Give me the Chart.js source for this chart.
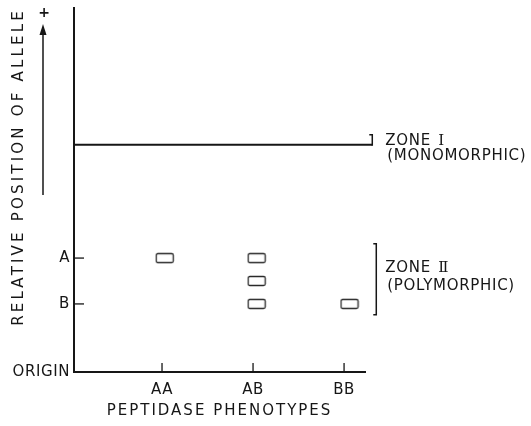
<!DOCTYPE html>
<html lang="en">
<head>
  <meta charset="UTF-8" />
  <title>Peptidase phenotypes</title>
  <script src="https://cdn.jsdelivr.net/npm/chart.js"></script>
  <style>
    body {
      margin: 0;
      background: #fff;
    }
    canvas {
      display: block;
    }
  </style>
</head>
<body>
  <canvas id="gelChart" width="531" height="426"></canvas>

  <script>
    // categories on the x axis
    const phenotypes = ['AA', 'AB', 'BB'];
    const phenotypeX = [1, 2, 3];

    // allele positions on the y axis (relative mobility, origin = 0)
    const alleleLabels = ['ORIGIN', 'B', 'A'];
    const allelePos = [0, 18.7, 31.3];

    // bands seen on the gel
    const bandX = [1.03, 2.04, 2.04, 2.04, 3.06];
    const bandY = [31.3, 31.3, 25.0, 18.7, 18.7];

    // zones
    const zoneOneY = 62.4;
    const zoneOneX = [0.033, 3.31];
    const zoneTwoRange = [15.7, 35.2];
    const zoneWord = 'ZONE';
    const zoneNumerals = ['\u2160', '\u2161'];
    const zoneNotes = ['(MONOMORPHIC)', '(POLYMORPHIC)'];

    const ink = '#161616';
    Chart.defaults.font.family = "'DejaVu Sans', sans-serif";
    Chart.defaults.font.size = 15;
    Chart.defaults.color = ink;

    // little rounded rectangle used as the band marker
    const band = document.createElement('canvas');
    band.width = 20;
    band.height = 12;
    const bctx = band.getContext('2d');
    bctx.strokeStyle = '#2a2a2a';
    bctx.lineWidth = 1.3;
    bctx.beginPath();
    bctx.roundRect(1.5, 1.5, 17, 9, 1.5);
    bctx.stroke();

    // spread the lettering of an axis title
    function spaceTitle(scale, spacing) {
      if (scale._spaced) return;
      const orig = scale.drawTitle;
      scale.drawTitle = function () {
        this.ctx.save();
        this.ctx.letterSpacing = spacing;
        orig.apply(this, arguments);
        this.ctx.restore();
      };
      scale._spaced = true;
    }

    function zoneTitle(ctx, numeral, x, y) {
      ctx.font = "15px 'DejaVu Sans', sans-serif";
      ctx.fillText(zoneWord, x, y);
      const w = ctx.measureText(zoneWord + ' ').width;
      ctx.font = "15px 'DejaVu Serif', serif";
      ctx.fillText(numeral, x + w + 2, y);
    }

    const gelMarks = {
      id: 'gelMarks',
      afterLayout(chart) {
        spaceTitle(chart.scales.x, '2px');
        spaceTitle(chart.scales.y, '3.2px');
      },
      beforeDraw(chart) {
        chart.ctx.letterSpacing = '0.6px';
      },
      afterDraw(chart) {
        const ctx = chart.ctx;
        const x = chart.scales.x;
        const y = chart.scales.y;
        const area = chart.chartArea;
        ctx.save();
        ctx.strokeStyle = ink;
        ctx.fillStyle = ink;
        ctx.lineWidth = 1.3;

        // inward tick marks
        phenotypeX.forEach(v => {
          const px = x.getPixelForValue(v);
          ctx.beginPath();
          ctx.moveTo(px, area.bottom);
          ctx.lineTo(px, area.bottom - 9);
          ctx.stroke();
        });
        allelePos.slice(1).forEach(v => {
          const py = y.getPixelForValue(v);
          ctx.beginPath();
          ctx.moveTo(area.left, py);
          ctx.lineTo(area.left + 10, py);
          ctx.stroke();
        });

        // zone I bracket
        const bx1 = x.getPixelForValue(zoneOneX[1]);
        const ly = y.getPixelForValue(zoneOneY);
        ctx.lineWidth = 1.5;
        ctx.beginPath();
        ctx.moveTo(bx1 - 3, ly - 10);
        ctx.lineTo(bx1, ly - 10);
        ctx.lineTo(bx1, ly + 1);
        ctx.stroke();

        // zone II bracket
        const bx2 = bx1 + 4;
        const t2 = y.getPixelForValue(zoneTwoRange[1]);
        const b2 = y.getPixelForValue(zoneTwoRange[0]);
        ctx.beginPath();
        ctx.moveTo(bx2 - 3, t2);
        ctx.lineTo(bx2, t2);
        ctx.lineTo(bx2, b2);
        ctx.lineTo(bx2 - 3, b2);
        ctx.stroke();

        // zone labels
        ctx.letterSpacing = '0.7px';
        ctx.textBaseline = 'middle';
        ctx.textAlign = 'left';
        const mid2 = (t2 + b2) / 2;
        zoneTitle(ctx, zoneNumerals[0], bx1 + 13, ly - 4);
        zoneTitle(ctx, zoneNumerals[1], bx1 + 13, mid2 - 11);
        ctx.font = "15px 'DejaVu Sans', sans-serif";
        ctx.fillText(zoneNotes[0], bx1 + 15, ly + 11);
        ctx.fillText(zoneNotes[1], bx1 + 15, mid2 + 7);

        // arrow beside the y title
        const ax = area.left - 31;
        ctx.lineWidth = 1.5;
        ctx.beginPath();
        ctx.moveTo(ax, area.top + 187);
        ctx.lineTo(ax, area.top + 24);
        ctx.stroke();
        ctx.beginPath();
        ctx.moveTo(ax, area.top + 16);
        ctx.lineTo(ax - 3.5, area.top + 27);
        ctx.lineTo(ax + 3.5, area.top + 27);
        ctx.closePath();
        ctx.fill();
        ctx.letterSpacing = '0px';
        ctx.textAlign = 'center';
        ctx.font = "bold 14px 'DejaVu Sans', sans-serif";
        ctx.fillText('+', ax + 1, area.top + 5);
        ctx.restore();
      }
    };

    const ctx = document.getElementById('gelChart').getContext('2d');

    new Chart(ctx, {
      type: 'scatter',
      data: {
        datasets: [
          {
            label: 'Zone I',
            data: zoneOneX.map(v => ({ x: v, y: zoneOneY })),
            showLine: true,
            borderColor: ink,
            borderWidth: 2,
            pointRadius: 0,
            clip: false
          },
          {
            label: 'Bands',
            data: bandX.map((v, i) => ({ x: v, y: bandY[i] })),
            pointStyle: band,
            pointRadius: 6
          }
        ]
      },
      options: {
        responsive: false,
        animation: false,
        layout: {
          padding: { left: 0, top: 8, right: 166, bottom: 0 }
        },
        plugins: {
          legend: { display: false },
          tooltip: { enabled: false }
        },
        scales: {
          x: {
            type: 'linear',
            min: 0.033,
            max: 3.23,
            afterBuildTicks: s => { s.ticks = phenotypeX.map(v => ({ value: v })); },
            afterFit: s => { s.height = 54; s.paddingLeft = 0; s.paddingRight = 0; },
            ticks: {
              autoSkip: false,
              maxRotation: 0,
              padding: 9,
              callback: (v, i) => phenotypes[i]
            },
            grid: { display: false, drawTicks: false },
            border: { color: ink, width: 2 },
            title: {
              display: true,
              text: 'PEPTIDASE PHENOTYPES',
              padding: { top: 0, bottom: 6 }
            }
          },
          y: {
            type: 'linear',
            min: 0,
            max: 100,
            afterBuildTicks: s => { s.ticks = allelePos.map(v => ({ value: v })); },
            afterFit: s => { s.width = 74; s.paddingTop = 0; s.paddingBottom = 0; },
            ticks: {
              autoSkip: false,
              padding: 4,
              callback: (v, i) => alleleLabels[i]
            },
            grid: { display: false, drawTicks: false },
            border: { color: ink, width: 2 },
            title: {
              display: true,
              text: 'RELATIVE POSITION OF ALLELE',
              align: 'end',
              padding: { top: 10, bottom: 0 }
            }
          }
        }
      },
      plugins: [gelMarks]
    });
  </script>
</body>
</html>
